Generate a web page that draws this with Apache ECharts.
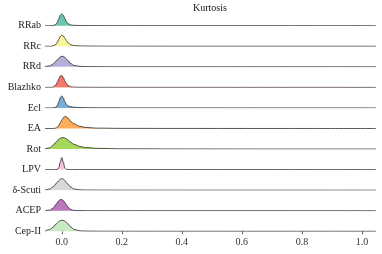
<!DOCTYPE html>
<html><head><meta charset="utf-8">
<script src="https://cdn.jsdelivr.net/npm/echarts@6/dist/echarts.min.js"></script>
<style>html,body{margin:0;padding:0;background:#fff}#c{width:382px;height:254px}</style>
</head><body><div id="c"></div>
<script>
const categories = ['RRab','RRc','RRd','Blazhko','Ecl','EA','Rot','LPV','δ-Scuti','ACEP','Cep-II'];
const xs = [-0.056,-0.04,-0.03,-0.02,-0.015,-0.01,-0.005,0,0.005,0.01,0.015,0.02,0.03,0.04,0.06,0.08,0.12,0.2,0.4,0.7,1.047];
const dRRab   = [0,0,0.01,0.1,0.28,0.58,0.88,1.0,0.88,0.6,0.35,0.18,0.06,0.03,0.015,0.01,0.006,0.004,0.002,0.001,0];
const dRRc    = [0,0,0.03,0.15,0.32,0.58,0.82,0.92,0.86,0.68,0.48,0.3,0.12,0.06,0.03,0.02,0.01,0.005,0.002,0.001,0];
const dRRd    = [0.01,0.08,0.22,0.45,0.58,0.72,0.83,0.88,0.86,0.78,0.66,0.52,0.27,0.12,0.04,0.02,0.01,0.005,0.002,0.001,0];
const dBlazhko= [0,0,0.02,0.2,0.42,0.72,0.95,0.98,0.82,0.55,0.32,0.16,0.05,0.02,0.01,0.006,0.004,0.003,0.002,0.001,0];
const dEcl    = [0,0,0,0.06,0.2,0.5,0.88,1.0,0.85,0.52,0.3,0.18,0.1,0.06,0.03,0.02,0.01,0.005,0.002,0.001,0];
const dEA     = [0,0,0,0.03,0.1,0.25,0.48,0.7,0.9,1.0,0.97,0.87,0.58,0.4,0.18,0.08,0.03,0.01,0.004,0.002,0];
const dRot    = [0.01,0.1,0.3,0.55,0.68,0.82,0.9,0.95,0.96,0.92,0.85,0.76,0.56,0.4,0.22,0.12,0.06,0.02,0.006,0.002,0];
const dLPV    = [0,0,0,0,0.02,0.15,0.62,1.0,0.62,0.15,0.03,0.01,0.005,0.003,0.002,0.001,0.001,0.001,0.001,0,0];
const dScuti  = [0.01,0.1,0.26,0.52,0.67,0.8,0.92,0.97,0.92,0.8,0.65,0.5,0.25,0.1,0.03,0.015,0.008,0.004,0.002,0.001,0];
const dACEP   = [0,0.05,0.2,0.5,0.68,0.84,0.93,0.93,0.85,0.7,0.5,0.32,0.1,0.03,0.01,0.005,0.003,0.002,0.001,0.001,0];
const dCepII  = [0.02,0.15,0.33,0.58,0.7,0.82,0.89,0.92,0.91,0.85,0.75,0.62,0.36,0.16,0.04,0.02,0.01,0.005,0.002,0.001,0];
const densities = [dRRab,dRRc,dRRd,dBlazhko,dEcl,dEA,dRot,dLPV,dScuti,dACEP,dCepII];
const colors = ['#6cc5b0','#fbf59c','#b3afd9','#f7786b','#7aaed6','#fdae5a','#a8d85a','#f9c4df','#d9d9d9','#bb77bb','#c9e9c1'];
const xTicks = [0,0.2,0.4,0.6,0.8,1.0];

const FONT = 'Liberation Serif';
const n = categories.length;
const rowStep = 20.56, firstBase = 25.7, H = 14, peakPx = 12;
const yMax = H / peakPx;
const grids = [], xAxes = [], yAxes = [], series = [];
for (let i = 0; i < n; i++) {
  const base = firstBase + rowStep * i;
  grids.push({left: 45, width: 331, top: base - H, height: H});
  const last = i === n - 1;
  xAxes.push({
    gridIndex: i, type: 'value', min: -0.056, max: 1.047,
    axisLine: {show: false}, splitLine: {show: false},
    axisTick: {show: last, customValues: xTicks, length: 3, lineStyle: {color: '#444', width: 0.8}},
    axisLabel: {
      show: last, customValues: xTicks, margin: 6, color: '#333', fontFamily: FONT, fontSize: 10,
      formatter: v => v.toFixed(1)
    }
  });
  yAxes.push({
    gridIndex: i, type: 'value', min: 0, max: yMax, interval: yMax,
    axisLine: {show: false}, axisTick: {show: false}, splitLine: {show: false},
    axisLabel: {
      margin: 4, color: '#222', fontFamily: FONT, fontSize: 10,
      formatter: v => (Math.abs(v) < 1e-9 ? categories[i] : '')
    }
  });
  series.push({
    type: 'line', xAxisIndex: i, yAxisIndex: i,
    data: xs.map((x, k) => [x, densities[i][k]]),
    smooth: 0.4, smoothMonotone: 'x', showSymbol: false, symbol: 'none',
    lineStyle: {color: '#2a2a2a', width: 0.8},
    areaStyle: {color: colors[i], opacity: 1},
    silent: true
  });
}
const chart = echarts.init(document.getElementById('c'), null, {renderer: 'canvas'});
chart.setOption({
  animation: false,
  backgroundColor: '#fff',
  title: {text: 'Kurtosis', left: 193, top: 3, padding: 0,
    textStyle: {fontFamily: FONT, fontSize: 10, fontWeight: 'normal', color: '#222'}},
  grid: grids, xAxis: xAxes, yAxis: yAxes, series: series
});
</script></body></html>
